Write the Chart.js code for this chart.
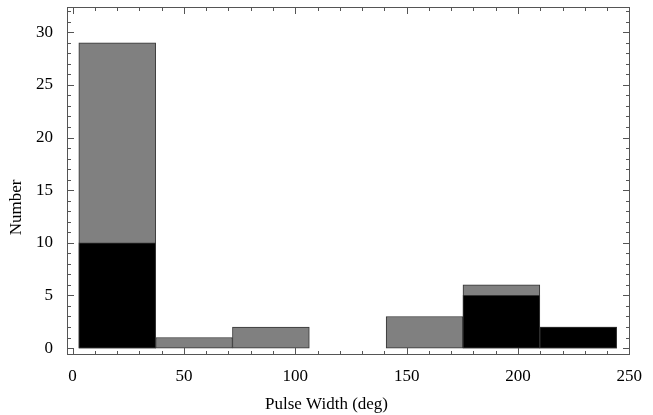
<!DOCTYPE html>
<html>
<head>
<meta charset="utf-8">
<script src="https://cdn.jsdelivr.net/npm/chart.js@4"></script>
<style>
  html, body { margin: 0; padding: 0; background: #fff; }
  #wrap { width: 653px; height: 415px; }
</style>
</head>
<body>
<div id="wrap"><canvas id="grafica"></canvas></div>
<script>
// histogram bins (deg) and counts
var binEdges = [2.8, 37.3, 71.8, 106.3, 140.8, 175.3, 209.8, 244.3];
var allCounts = [29, 1, 2, 0, 3, 6, 2];
var subCounts = [10, 0, 0, 0, 0, 5, 2];
var xTicks = [0, 50, 100, 150, 200, 250];
var yTicks = [0, 5, 10, 15, 20, 25, 30];
var xTitle = 'Pulse Width (deg)';
var yTitle = 'Number';

function toBars(counts) {
  return counts.map(function(c, i) {
    return { x: (binEdges[i] + binEdges[i + 1]) / 2, y: c === 0 ? null : c };
  });
}

const fuente = 'Liberation Serif, Times New Roman, serif';

// frame with inward ticks on all four sides, like the original
const marco = {
  id: 'marco',
  afterDatasetsDraw(chart) {
    const ctx = chart.ctx;
    const a = chart.chartArea;
    const x = chart.scales.x, y = chart.scales.y;
    ctx.save();
    ctx.strokeStyle = '#555';
    ctx.lineWidth = 1;
    ctx.strokeRect(a.left + 0.5, a.top + 0.5, a.right - a.left - 1, a.bottom - a.top - 1);
    ctx.beginPath();
    for (let v = 0; v <= 250; v += 10) {
      const px = Math.round(x.getPixelForValue(v)) + 0.5;
      const len = v % 50 === 0 ? 7 : 4;
      ctx.moveTo(px, a.bottom); ctx.lineTo(px, a.bottom - len);
      ctx.moveTo(px, a.top); ctx.lineTo(px, a.top + len);
    }
    for (let v = 0; v <= 32; v += 1) {
      const py = Math.round(y.getPixelForValue(v)) + 0.5;
      const len = v % 5 === 0 ? 7 : 4;
      ctx.moveTo(a.left, py); ctx.lineTo(a.left + len, py);
      ctx.moveTo(a.right, py); ctx.lineTo(a.right - len, py);
    }
    ctx.stroke();

    // axis labels centred on the whole picture
    ctx.fillStyle = '#000';
    ctx.font = '17px ' + fuente;
    ctx.textAlign = 'center';
    ctx.textBaseline = 'middle';
    ctx.fillText(xTitle, chart.width / 2, 405);
    ctx.translate(17, chart.height / 2);
    ctx.rotate(-Math.PI / 2);
    ctx.fillText(yTitle, 0, 0);
    ctx.restore();
  }
};

new Chart(document.getElementById('grafica').getContext('2d'), {
  type: 'bar',
  data: {
    datasets: [{
      label: 'sub',
      data: toBars(subCounts),
      backgroundColor: '#000000',
      borderColor: '#333333',
      borderWidth: 1,
      borderSkipped: false,
      grouped: false,
      barPercentage: 1,
      categoryPercentage: 1
    }, {
      label: 'all',
      data: toBars(allCounts),
      backgroundColor: '#808080',
      borderColor: '#333333',
      borderWidth: 1,
      borderSkipped: false,
      grouped: false,
      barPercentage: 1,
      categoryPercentage: 1
    }]
  },
  options: {
    responsive: true,
    maintainAspectRatio: false,
    animation: false,
    layout: { padding: { top: 7, right: 23, left: 0, bottom: 0 } },
    plugins: {
      legend: { display: false },
      tooltip: { enabled: false }
    },
    scales: {
      x: {
        type: 'linear',
        offset: false,
        min: -2.5,
        max: 250.3,
        grid: { display: false },
        border: { display: false },
        afterBuildTicks: function(s) { s.ticks = xTicks.map(v => ({ value: v })); },
        afterFit: function(s) { s.height = 60; s.paddingLeft = 0; s.paddingRight = 0; },
        ticks: {
          padding: 3,
          maxRotation: 0,
          color: '#000',
          font: { family: fuente, size: 17 }
        }
      },
      y: {
        type: 'linear',
        min: -0.66,
        max: 32.4,
        grid: { display: false },
        border: { display: false },
        afterBuildTicks: function(s) { s.ticks = yTicks.map(v => ({ value: v })); },
        afterFit: function(s) { s.width = 67; s.paddingTop = 0; s.paddingBottom = 0; },
        ticks: {
          padding: 6,
          color: '#000',
          font: { family: fuente, size: 17 }
        }
      }
    }
  },
  plugins: [marco]
});
</script>
</body>
</html>
